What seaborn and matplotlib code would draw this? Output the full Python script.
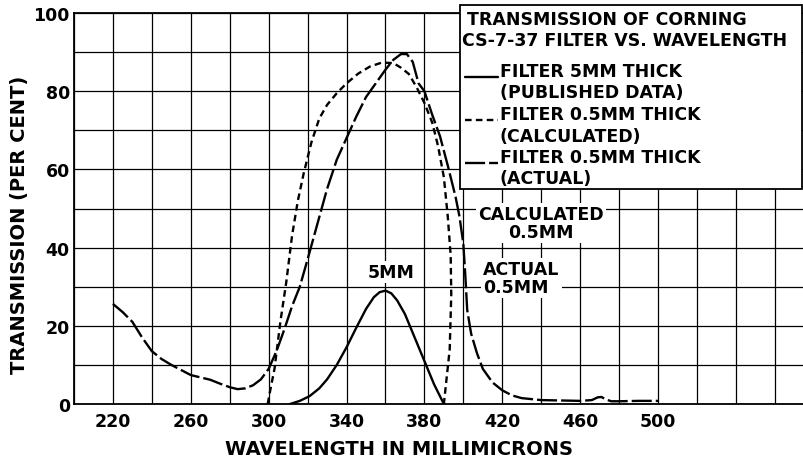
import matplotlib
matplotlib.use("Agg")
import matplotlib.pyplot as plt
import seaborn as sns
from matplotlib.lines import Line2D
from matplotlib.patches import Rectangle

# ---------------- data ----------------
wl_5mm = [311, 316, 321, 326, 330, 335, 340, 345, 350, 354, 357, 360,
          363, 366, 370, 375, 380, 385, 390]
t_5mm = [0, 0.8, 2, 4, 6.3, 10, 14.5, 19.5, 24.3, 27.3, 28.6, 29,
         28.3, 26.5, 23, 17, 11, 5, 0]

wl_calc = [299.5, 301, 303, 306, 309, 312, 315, 318, 322, 326, 330, 335,
           340, 346, 352, 358, 364, 368, 372, 376, 380, 384, 387, 390,
           392, 393.5, 393.8, 393, 390]
t_calc = [0, 4, 9, 21, 31, 43, 52, 59, 67, 73, 76.5, 79.5,
          82, 84.5, 86.3, 87.3, 87.2, 86, 84.4, 81, 77, 72, 66, 58,
          48, 38, 28, 14, 0]

wl_actual = [220, 225, 230, 235, 240, 245, 250, 255, 260, 265, 270, 275,
             280, 284, 288, 292, 296, 300, 304, 308, 312, 316, 320, 325,
             330, 335, 340, 345, 350, 355, 360, 364, 368, 371, 374, 377,
             380, 384, 388, 392, 396, 398, 400, 401, 402, 404, 407, 410,
             415, 420, 425, 430, 440, 450, 460, 466, 469, 471, 473, 476,
             480, 490, 500]
t_actual = [25.6, 23.5, 21, 17, 13.5, 11.5, 10, 8.7, 7.4, 6.8, 6.2, 5.2,
            4.3, 3.8, 4, 4.8, 6.3, 9, 13.5, 19, 25, 30, 37, 46,
            55, 62.5, 68, 73.5, 78.5, 82, 85.5, 88, 89.5, 89.5, 87.5, 82,
            80, 74, 68.5, 61, 53, 48, 41, 33, 24, 18, 13, 9,
            5.5, 3.5, 2.2, 1.5, 1, 0.9, 0.8, 1, 1.7, 1.8, 1.2, 0.7,
            0.7, 0.8, 0.8]

x_tick_labels = [220, 260, 300, 340, 380, 420, 460, 500]
y_tick_labels = [0, 20, 40, 60, 80, 100]

title_lines = ["TRANSMISSION OF CORNING", "CS-7-37 FILTER VS. WAVELENGTH"]
legend_entries = [("FILTER 5MM THICK", "(PUBLISHED DATA)"),
                  ("FILTER 0.5MM THICK", "(CALCULATED)"),
                  ("FILTER 0.5MM THICK", "(ACTUAL)")]

# ---------------- styling ----------------
sns.set_style("white")
plt.rcParams['font.family'] = ['DejaVu Sans']
plt.rcParams['font.weight'] = 'bold'
plt.rcParams['text.color'] = 'black'
plt.rcParams['axes.labelcolor'] = 'black'
plt.rcParams['xtick.color'] = 'black'
plt.rcParams['ytick.color'] = 'black'

W, H = 804, 460
def fx(px):
    return px / W
def fy(py):
    return 1 - py / H

fig = plt.figure(figsize=(W / 100, H / 100), dpi=100)
ax = fig.add_axes([fx(74), fy(405), (804 - 74) / W, (405 - 14) / H])

LW = 1.7
styles = {
    "solid": dict(linestyle='-'),
    "calc": dict(linestyle=(0, (2.8, 1.8))),
    "actual": dict(linestyle=(0, (8.5, 1.7))),
}

sns.lineplot(x=wl_5mm, y=t_5mm, ax=ax, color='black', linewidth=LW,
             sort=False, estimator=None, **styles["solid"])
sns.lineplot(x=wl_calc, y=t_calc, ax=ax, color='black', linewidth=LW,
             sort=False, estimator=None, **styles["calc"])
sns.lineplot(x=wl_actual, y=t_actual, ax=ax, color='black', linewidth=LW,
             sort=False, estimator=None, **styles["actual"])

ax.set_xlim(200, 575)
ax.set_ylim(0, 100)

xt = list(range(200, 575, 20))
ax.set_xticks(xt, labels=[str(v) if v in x_tick_labels else '' for v in xt])
yt = list(range(0, 101, 10))
ax.set_yticks(yt, labels=[str(v) if v in y_tick_labels else '' for v in yt])
ax.tick_params(axis='both', length=0, labelsize=12.5, colors='black',
               labelcolor='black')
ax.tick_params(axis='x', pad=6)
ax.tick_params(axis='y', pad=3)
ax.grid(True, color='black', linewidth=0.9)
ax.set_axisbelow(True)
for s in ax.spines.values():
    s.set_color('black')
    s.set_linewidth(1.3)
ax.set_xlabel('')
ax.set_ylabel('')

fig.text(fx(399), fy(450), "WAVELENGTH IN MILLIMICRONS", ha='center',
         va='center', fontsize=14, color='black')
fig.text(fx(20), fy(225), "TRANSMISSION (PER CENT)", ha='center',
         va='center', rotation=90, fontsize=14, color='black')

# annotations on the chart
bb = dict(facecolor='white', edgecolor='none', pad=1.5)
ax.text(362.8, 33.8, "5MM", ha='center', va='center', fontsize=12.5,
        color='black', bbox=bb)
ax.text(440, 46.2, "CALCULATED\n0.5MM", ha='center', va='center',
        fontsize=12.5, linespacing=1.0, color='black', bbox=bb)
ax.text(410.3, 32.2, "ACTUAL\n0.5MM", ha='left', va='center',
        fontsize=12.5, linespacing=1.0, color='black', bbox=bb)

# legend box
fig.add_artist(Rectangle((fx(460), fy(190)), (802 - 460) / W, (190 - 6) / H,
                         transform=fig.transFigure, facecolor='white',
                         edgecolor='black', linewidth=1.3, zorder=5))
fig.text(fx(467), fy(20), title_lines[0], ha='left', va='center',
         fontsize=12.5, color='black', zorder=6)
fig.text(fx(462), fy(41), title_lines[1], ha='left', va='center',
         fontsize=12.5, color='black', zorder=6)
entry_y = [72, 115, 158]
keys = ["solid", "calc", "actual"]
for (l1, l2), ey, k in zip(legend_entries, entry_y, keys):
    fig.text(fx(500), fy(ey), l1, ha='left', va='center', fontsize=12.5,
             color='black', zorder=6)
    fig.text(fx(500), fy(ey + 21.5), l2, ha='left', va='center',
             fontsize=12.5, color='black', zorder=6)
    fig.add_artist(Line2D([fx(465), fx(498)], [fy(ey + 6), fy(ey + 6)],
                          transform=fig.transFigure, color='black',
                          linewidth=LW, zorder=6, **styles[k]))

fig.savefig("out.png", dpi=100)
